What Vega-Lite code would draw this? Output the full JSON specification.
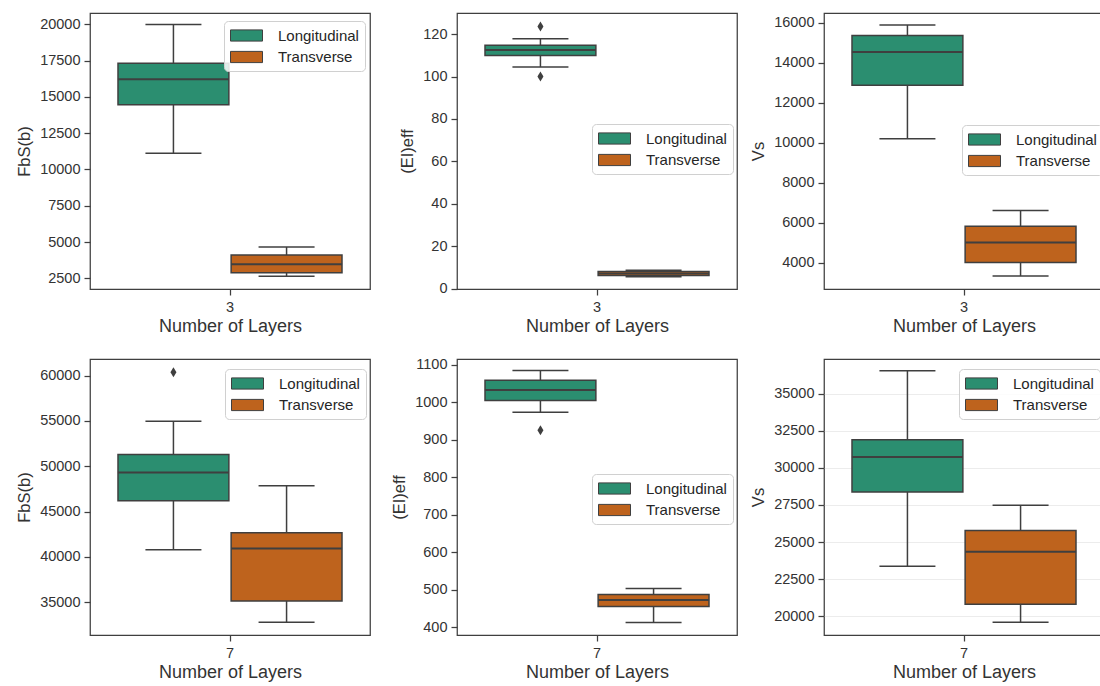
{
  "$schema": "https://vega.github.io/schema/vega-lite/v6.json",
  "padding": {"left": 16, "top": 12, "right": 0, "bottom": 0},
  "background": "white",
  "datasets": {
    "boxes": [
      {"panel": "p1", "layers": "3", "dir": "Longitudinal", "min": 11112, "q1": 14465, "med": 16210, "q3": 17313, "max": 19980},
      {"panel": "p1", "layers": "3", "dir": "Transverse", "min": 2637, "q1": 2889, "med": 3464, "q3": 4107, "max": 4658},
      {"panel": "p2", "layers": "3", "dir": "Longitudinal", "min": 104.5, "q1": 110, "med": 112.6, "q3": 114.8, "max": 117.8},
      {"panel": "p2", "layers": "3", "dir": "Transverse", "min": 5.6, "q1": 6.2, "med": 7.1, "q3": 8.0, "max": 8.6},
      {"panel": "p3", "layers": "3", "dir": "Longitudinal", "min": 10210, "q1": 12889, "med": 14552, "q3": 15368, "max": 15900},
      {"panel": "p3", "layers": "3", "dir": "Transverse", "min": 3334, "q1": 4017, "med": 5015, "q3": 5830, "max": 6612},
      {"panel": "p4", "layers": "7", "dir": "Longitudinal", "min": 40771, "q1": 46175, "med": 49302, "q3": 51285, "max": 54963},
      {"panel": "p4", "layers": "7", "dir": "Transverse", "min": 32761, "q1": 35110, "med": 40918, "q3": 42643, "max": 47834},
      {"panel": "p5", "layers": "7", "dir": "Longitudinal", "min": 974, "q1": 1005, "med": 1033, "q3": 1059, "max": 1085},
      {"panel": "p5", "layers": "7", "dir": "Transverse", "min": 413, "q1": 455.5, "med": 473, "q3": 487.5, "max": 503.6},
      {"panel": "p6", "layers": "7", "dir": "Longitudinal", "min": 23376, "q1": 28376, "med": 30741, "q3": 31894, "max": 36549},
      {"panel": "p6", "layers": "7", "dir": "Transverse", "min": 19596, "q1": 20808, "med": 24349, "q3": 25786, "max": 27478}
    ],
    "outliers": [
      {"panel": "p2", "layers": "3", "dir": "Longitudinal", "value": 123.6},
      {"panel": "p2", "layers": "3", "dir": "Longitudinal", "value": 100.1},
      {"panel": "p4", "layers": "7", "dir": "Longitudinal", "value": 60367},
      {"panel": "p5", "layers": "7", "dir": "Longitudinal", "value": 926}
    ]
  },
  "columns": 3,
  "spacing": {"row": 70, "column": 87},
  "bounds": "flush",
  "resolve": {"scale": {"x": "independent", "y": "independent", "color": "independent"}},
  "concat": [
    {
      "width": 280, "height": 276,
      "encoding": {
        "x": {"field": "layers", "type": "nominal", "scale": {"paddingOuter": 0.125, "paddingInner": 0}, "axis": {"title": "Number of Layers", "labelAngle": 0}},
        "xOffset": {"field": "dir", "type": "nominal", "scale": {"paddingInner": 0.02}}
      },
      "layer": [
        {"data": {"name": "boxes"}, "transform": [{"filter": "datum.panel === 'p1'"}], "mark": {"type": "rule", "color": "#3f3f3f", "strokeWidth": 1.5},
         "encoding": {"y": {"field": "min", "type": "quantitative", "title": "FbS(b)", "scale": {"domain": [1763, 20779], "nice": false, "zero": false}, "axis": {"values": [2500, 5000, 7500, 10000, 12500, 15000, 17500, 20000], "tickCount": 20, "format": "d", "labelOverlap": false}}, "y2": {"field": "max"}}},
        {"data": {"name": "boxes"}, "transform": [{"filter": "datum.panel === 'p1'"}], "mark": {"type": "bar", "stroke": "#3f3f3f", "strokeWidth": 1.5},
         "encoding": {"y": {"field": "q1", "type": "quantitative", "title": "FbS(b)"}, "y2": {"field": "q3"},
           "color": {"field": "dir", "type": "nominal", "scale": {"domain": ["Longitudinal", "Transverse"], "range": ["#2b8e70", "#be631d"]}, "legend": {"title": null, "orient": "none", "legendX": 134, "legendY": 8}}}},
        {"data": {"name": "boxes"}, "transform": [{"filter": "datum.panel === 'p1'"}], "mark": {"type": "tick", "color": "#3f3f3f", "size": 111, "thickness": 2, "opacity": 1},
         "encoding": {"y": {"field": "med", "type": "quantitative", "title": "FbS(b)"}}},
        {"data": {"name": "boxes"}, "transform": [{"filter": "datum.panel === 'p1'"}], "mark": {"type": "tick", "color": "#3f3f3f", "size": 56, "thickness": 1.5, "opacity": 1},
         "encoding": {"y": {"field": "min", "type": "quantitative", "title": "FbS(b)"}}},
        {"data": {"name": "boxes"}, "transform": [{"filter": "datum.panel === 'p1'"}], "mark": {"type": "tick", "color": "#3f3f3f", "size": 56, "thickness": 1.5, "opacity": 1},
         "encoding": {"y": {"field": "max", "type": "quantitative", "title": "FbS(b)"}}}
      ]
    },
    {
      "width": 280, "height": 276,
      "encoding": {
        "x": {"field": "layers", "type": "nominal", "scale": {"paddingOuter": 0.125, "paddingInner": 0}, "axis": {"title": "Number of Layers", "labelAngle": 0}},
        "xOffset": {"field": "dir", "type": "nominal", "scale": {"paddingInner": 0.02}}
      },
      "layer": [
        {"data": {"name": "boxes"}, "transform": [{"filter": "datum.panel === 'p2'"}], "mark": {"type": "rule", "color": "#3f3f3f", "strokeWidth": 1.5},
         "encoding": {"y": {"field": "min", "type": "quantitative", "title": "(EI)eff", "scale": {"domain": [-0.2, 130], "nice": false, "zero": false}, "axis": {"values": [0, 20, 40, 60, 80, 100, 120], "tickCount": 20, "format": "d", "labelOverlap": false}}, "y2": {"field": "max"}}},
        {"data": {"name": "boxes"}, "transform": [{"filter": "datum.panel === 'p2'"}], "mark": {"type": "bar", "stroke": "#3f3f3f", "strokeWidth": 1.5},
         "encoding": {"y": {"field": "q1", "type": "quantitative", "title": "(EI)eff"}, "y2": {"field": "q3"},
           "color": {"field": "dir", "type": "nominal", "scale": {"domain": ["Longitudinal", "Transverse"], "range": ["#2b8e70", "#be631d"]}, "legend": {"title": null, "orient": "none", "legendX": 135, "legendY": 111}}}},
        {"data": {"name": "boxes"}, "transform": [{"filter": "datum.panel === 'p2'"}], "mark": {"type": "tick", "color": "#3f3f3f", "size": 111, "thickness": 2, "opacity": 1},
         "encoding": {"y": {"field": "med", "type": "quantitative", "title": "(EI)eff"}}},
        {"data": {"name": "boxes"}, "transform": [{"filter": "datum.panel === 'p2'"}], "mark": {"type": "tick", "color": "#3f3f3f", "size": 56, "thickness": 1.5, "opacity": 1},
         "encoding": {"y": {"field": "min", "type": "quantitative", "title": "(EI)eff"}}},
        {"data": {"name": "boxes"}, "transform": [{"filter": "datum.panel === 'p2'"}], "mark": {"type": "tick", "color": "#3f3f3f", "size": 56, "thickness": 1.5, "opacity": 1},
         "encoding": {"y": {"field": "max", "type": "quantitative", "title": "(EI)eff"}}},
        {"data": {"name": "outliers"}, "transform": [{"filter": "datum.panel === 'p2'"}], "mark": {"type": "point", "shape": "M0,-1L0.6,0L0,1L-0.6,0Z", "filled": true, "color": "#3f3f3f", "size": 100, "opacity": 1},
         "encoding": {"y": {"field": "value", "type": "quantitative", "title": "(EI)eff"}}}
      ]
    },
    {
      "width": 280, "height": 276,
      "encoding": {
        "x": {"field": "layers", "type": "nominal", "scale": {"paddingOuter": 0.125, "paddingInner": 0}, "axis": {"title": "Number of Layers", "labelAngle": 0}},
        "xOffset": {"field": "dir", "type": "nominal", "scale": {"paddingInner": 0.02}}
      },
      "layer": [
        {"data": {"name": "boxes"}, "transform": [{"filter": "datum.panel === 'p3'"}], "mark": {"type": "rule", "color": "#3f3f3f", "strokeWidth": 1.5},
         "encoding": {"y": {"field": "min", "type": "quantitative", "title": "Vs", "scale": {"domain": [2686, 16499], "nice": false, "zero": false}, "axis": {"values": [4000, 6000, 8000, 10000, 12000, 14000, 16000], "tickCount": 20, "format": "d", "labelOverlap": false}}, "y2": {"field": "max"}}},
        {"data": {"name": "boxes"}, "transform": [{"filter": "datum.panel === 'p3'"}], "mark": {"type": "bar", "stroke": "#3f3f3f", "strokeWidth": 1.5},
         "encoding": {"y": {"field": "q1", "type": "quantitative", "title": "Vs"}, "y2": {"field": "q3"},
           "color": {"field": "dir", "type": "nominal", "scale": {"domain": ["Longitudinal", "Transverse"], "range": ["#2b8e70", "#be631d"]}, "legend": {"title": null, "orient": "none", "legendX": 138, "legendY": 112}}}},
        {"data": {"name": "boxes"}, "transform": [{"filter": "datum.panel === 'p3'"}], "mark": {"type": "tick", "color": "#3f3f3f", "size": 111, "thickness": 2, "opacity": 1},
         "encoding": {"y": {"field": "med", "type": "quantitative", "title": "Vs"}}},
        {"data": {"name": "boxes"}, "transform": [{"filter": "datum.panel === 'p3'"}], "mark": {"type": "tick", "color": "#3f3f3f", "size": 56, "thickness": 1.5, "opacity": 1},
         "encoding": {"y": {"field": "min", "type": "quantitative", "title": "Vs"}}},
        {"data": {"name": "boxes"}, "transform": [{"filter": "datum.panel === 'p3'"}], "mark": {"type": "tick", "color": "#3f3f3f", "size": 56, "thickness": 1.5, "opacity": 1},
         "encoding": {"y": {"field": "max", "type": "quantitative", "title": "Vs"}}}
      ]
    },
    {
      "width": 280, "height": 276,
      "encoding": {
        "x": {"field": "layers", "type": "nominal", "scale": {"paddingOuter": 0.125, "paddingInner": 0}, "axis": {"title": "Number of Layers", "labelAngle": 0}},
        "xOffset": {"field": "dir", "type": "nominal", "scale": {"paddingInner": 0.02}}
      },
      "layer": [
        {"data": {"name": "boxes"}, "transform": [{"filter": "datum.panel === 'p4'"}], "mark": {"type": "rule", "color": "#3f3f3f", "strokeWidth": 1.5},
         "encoding": {"y": {"field": "min", "type": "quantitative", "title": "FbS(b)", "scale": {"domain": [31366, 61836], "nice": false, "zero": false}, "axis": {"values": [35000, 40000, 45000, 50000, 55000, 60000], "tickCount": 20, "format": "d", "labelOverlap": false}}, "y2": {"field": "max"}}},
        {"data": {"name": "boxes"}, "transform": [{"filter": "datum.panel === 'p4'"}], "mark": {"type": "bar", "stroke": "#3f3f3f", "strokeWidth": 1.5},
         "encoding": {"y": {"field": "q1", "type": "quantitative", "title": "FbS(b)"}, "y2": {"field": "q3"},
           "color": {"field": "dir", "type": "nominal", "scale": {"domain": ["Longitudinal", "Transverse"], "range": ["#2b8e70", "#be631d"]}, "legend": {"title": null, "orient": "none", "legendX": 135, "legendY": 10}}}},
        {"data": {"name": "boxes"}, "transform": [{"filter": "datum.panel === 'p4'"}], "mark": {"type": "tick", "color": "#3f3f3f", "size": 111, "thickness": 2, "opacity": 1},
         "encoding": {"y": {"field": "med", "type": "quantitative", "title": "FbS(b)"}}},
        {"data": {"name": "boxes"}, "transform": [{"filter": "datum.panel === 'p4'"}], "mark": {"type": "tick", "color": "#3f3f3f", "size": 56, "thickness": 1.5, "opacity": 1},
         "encoding": {"y": {"field": "min", "type": "quantitative", "title": "FbS(b)"}}},
        {"data": {"name": "boxes"}, "transform": [{"filter": "datum.panel === 'p4'"}], "mark": {"type": "tick", "color": "#3f3f3f", "size": 56, "thickness": 1.5, "opacity": 1},
         "encoding": {"y": {"field": "max", "type": "quantitative", "title": "FbS(b)"}}},
        {"data": {"name": "outliers"}, "transform": [{"filter": "datum.panel === 'p4'"}], "mark": {"type": "point", "shape": "M0,-1L0.6,0L0,1L-0.6,0Z", "filled": true, "color": "#3f3f3f", "size": 100, "opacity": 1},
         "encoding": {"y": {"field": "value", "type": "quantitative", "title": "FbS(b)"}}}
      ]
    },
    {
      "width": 280, "height": 276,
      "encoding": {
        "x": {"field": "layers", "type": "nominal", "scale": {"paddingOuter": 0.125, "paddingInner": 0}, "axis": {"title": "Number of Layers", "labelAngle": 0}},
        "xOffset": {"field": "dir", "type": "nominal", "scale": {"paddingInner": 0.02}}
      },
      "layer": [
        {"data": {"name": "boxes"}, "transform": [{"filter": "datum.panel === 'p5'"}], "mark": {"type": "rule", "color": "#3f3f3f", "strokeWidth": 1.5},
         "encoding": {"y": {"field": "min", "type": "quantitative", "title": "(EI)eff", "scale": {"domain": [379.5, 1116], "nice": false, "zero": false}, "axis": {"values": [400, 500, 600, 700, 800, 900, 1000, 1100], "tickCount": 20, "format": "d", "labelOverlap": false}}, "y2": {"field": "max"}}},
        {"data": {"name": "boxes"}, "transform": [{"filter": "datum.panel === 'p5'"}], "mark": {"type": "bar", "stroke": "#3f3f3f", "strokeWidth": 1.5},
         "encoding": {"y": {"field": "q1", "type": "quantitative", "title": "(EI)eff"}, "y2": {"field": "q3"},
           "color": {"field": "dir", "type": "nominal", "scale": {"domain": ["Longitudinal", "Transverse"], "range": ["#2b8e70", "#be631d"]}, "legend": {"title": null, "orient": "none", "legendX": 135, "legendY": 115}}}},
        {"data": {"name": "boxes"}, "transform": [{"filter": "datum.panel === 'p5'"}], "mark": {"type": "tick", "color": "#3f3f3f", "size": 111, "thickness": 2, "opacity": 1},
         "encoding": {"y": {"field": "med", "type": "quantitative", "title": "(EI)eff"}}},
        {"data": {"name": "boxes"}, "transform": [{"filter": "datum.panel === 'p5'"}], "mark": {"type": "tick", "color": "#3f3f3f", "size": 56, "thickness": 1.5, "opacity": 1},
         "encoding": {"y": {"field": "min", "type": "quantitative", "title": "(EI)eff"}}},
        {"data": {"name": "boxes"}, "transform": [{"filter": "datum.panel === 'p5'"}], "mark": {"type": "tick", "color": "#3f3f3f", "size": 56, "thickness": 1.5, "opacity": 1},
         "encoding": {"y": {"field": "max", "type": "quantitative", "title": "(EI)eff"}}},
        {"data": {"name": "outliers"}, "transform": [{"filter": "datum.panel === 'p5'"}], "mark": {"type": "point", "shape": "M0,-1L0.6,0L0,1L-0.6,0Z", "filled": true, "color": "#3f3f3f", "size": 100, "opacity": 1},
         "encoding": {"y": {"field": "value", "type": "quantitative", "title": "(EI)eff"}}}
      ]
    },
    {
      "width": 280, "height": 276,
      "encoding": {
        "x": {"field": "layers", "type": "nominal", "scale": {"paddingOuter": 0.125, "paddingInner": 0}, "axis": {"title": "Number of Layers", "labelAngle": 0}},
        "xOffset": {"field": "dir", "type": "nominal", "scale": {"paddingInner": 0.02}}
      },
      "layer": [
        {"data": {"name": "boxes"}, "transform": [{"filter": "datum.panel === 'p6'"}], "mark": {"type": "rule", "color": "#3f3f3f", "strokeWidth": 1.5},
         "encoding": {"y": {"field": "min", "type": "quantitative", "title": "Vs", "scale": {"domain": [18742, 37335], "nice": false, "zero": false}, "axis": {"values": [20000, 22500, 25000, 27500, 30000, 32500, 35000], "tickCount": 20, "format": "d", "labelOverlap": false, "grid": true, "gridColor": "#ececec", "gridWidth": 1}}, "y2": {"field": "max"}}},
        {"data": {"name": "boxes"}, "transform": [{"filter": "datum.panel === 'p6'"}], "mark": {"type": "bar", "stroke": "#3f3f3f", "strokeWidth": 1.5},
         "encoding": {"y": {"field": "q1", "type": "quantitative", "title": "Vs"}, "y2": {"field": "q3"},
           "color": {"field": "dir", "type": "nominal", "scale": {"domain": ["Longitudinal", "Transverse"], "range": ["#2b8e70", "#be631d"]}, "legend": {"title": null, "orient": "none", "legendX": 135, "legendY": 10}}}},
        {"data": {"name": "boxes"}, "transform": [{"filter": "datum.panel === 'p6'"}], "mark": {"type": "tick", "color": "#3f3f3f", "size": 111, "thickness": 2, "opacity": 1},
         "encoding": {"y": {"field": "med", "type": "quantitative", "title": "Vs"}}},
        {"data": {"name": "boxes"}, "transform": [{"filter": "datum.panel === 'p6'"}], "mark": {"type": "tick", "color": "#3f3f3f", "size": 56, "thickness": 1.5, "opacity": 1},
         "encoding": {"y": {"field": "min", "type": "quantitative", "title": "Vs"}}},
        {"data": {"name": "boxes"}, "transform": [{"filter": "datum.panel === 'p6'"}], "mark": {"type": "tick", "color": "#3f3f3f", "size": 56, "thickness": 1.5, "opacity": 1},
         "encoding": {"y": {"field": "max", "type": "quantitative", "title": "Vs"}}}
      ]
    }
  ],
  "config": {
    "font": "Liberation Sans",
    "view": {"stroke": "#3f3f3f", "strokeWidth": 1.25},
    "axis": {"domain": false, "ticks": true, "tickColor": "#3f3f3f", "tickSize": 6, "tickWidth": 1.25, "labelFontSize": 14.5, "labelColor": "#333333", "labelFont": "Liberation Sans", "titleFont": "Liberation Sans", "titleFontWeight": "normal", "titleColor": "#333333", "grid": false, "labelPadding": 4, "labelOverlap": false, "labelFlush": false},
    "axisY": {"titleFontSize": 16.5, "titlePadding": 7},
    "axisX": {"titleFontSize": 18, "titlePadding": 4, "labelPadding": 5},
    "legend": {"direction": "vertical", "symbolType": "M-2,-0.7H2V0.7H-2Z", "symbolSize": 256, "symbolOffset": 8, "symbolStrokeColor": "#3f3f3f", "symbolStrokeWidth": 1, "symbolOpacity": 1, "labelFontSize": 15, "labelFont": "Liberation Sans", "labelColor": "#262626", "fillColor": "rgba(255,255,255,0.85)", "strokeColor": "#d0d0d0", "cornerRadius": 4, "padding": 6, "rowPadding": 4.5, "labelOffset": 23}
  }
}
